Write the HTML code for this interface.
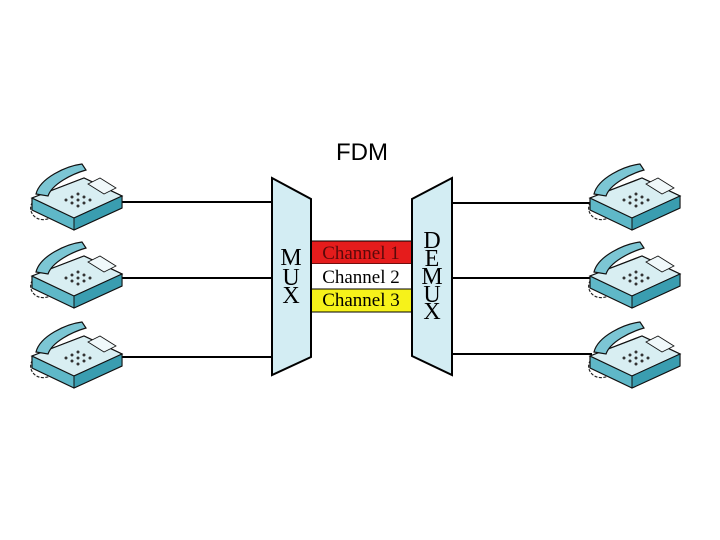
<!DOCTYPE html>
<html><head><style>body{margin:0;background:#fff}svg{display:block}</style></head><body>
<svg width="720" height="540" viewBox="0 0 720 540" xmlns="http://www.w3.org/2000/svg">
<defs>
<g id="ph">
  <path d="M14,40 C4,42 2,52 8,58 C14,64 24,62 30,56" fill="none" stroke="#222" stroke-width="1.2" stroke-dasharray="3 1.5"/>
  <polygon points="6,40 58,20 96,38 96,50 48,72 6,52" fill="#5fb8c8" stroke="#111" stroke-width="1.2"/>
  <polygon points="6,40 58,20 96,38 48,60" fill="#d8eef2" stroke="#111" stroke-width="1.2"/>
  <polygon points="48,60 96,38 96,50 48,72" fill="#3a9db0" stroke="#111" stroke-width="1"/>
  <path d="M10,36 C14,20 40,8 56,6 L60,12 C46,16 26,26 22,38 Z" fill="#7cc6d4" stroke="#111" stroke-width="1.2"/>
  <g fill="#333"><circle cx="40" cy="42" r="1.5"/><circle cx="46" cy="45" r="1.5"/><circle cx="52" cy="48" r="1.5"/><circle cx="46" cy="39" r="1.5"/><circle cx="52" cy="42" r="1.5"/><circle cx="58" cy="45" r="1.5"/><circle cx="52" cy="36" r="1.5"/><circle cx="58" cy="39" r="1.5"/><circle cx="64" cy="42" r="1.5"/></g>
  <polygon points="62,26 74,20 90,30 78,36" fill="#f0f8fa" stroke="#111" stroke-width="0.8"/>
</g>
</defs>
<text x="362" y="160" font-family="Liberation Sans, sans-serif" font-size="24" text-anchor="middle">FDM</text>
<g stroke="#000" stroke-width="2">
<line x1="118" y1="202" x2="272" y2="202"/><line x1="118" y1="278" x2="272" y2="278"/><line x1="118" y1="357" x2="272" y2="357"/>
<line x1="452" y1="203" x2="592" y2="203"/><line x1="452" y1="278" x2="592" y2="278"/><line x1="452" y1="354" x2="592" y2="354"/>
</g>
<use href="#ph" x="26" y="158"/><use href="#ph" x="26" y="236"/><use href="#ph" x="26" y="316"/>
<use href="#ph" x="584" y="158"/><use href="#ph" x="584" y="236"/><use href="#ph" x="584" y="316"/>
<rect x="311" y="241" width="101" height="23" fill="#e51c1c" stroke="#000" stroke-width="1"/>
<rect x="311" y="264" width="101" height="25" fill="#fff"/>
<rect x="311" y="289" width="101" height="23" fill="#f6f21a" stroke="#000" stroke-width="1"/>
<polygon points="272,178 311,199 311,357 272,375" fill="#d3edf3" stroke="#000" stroke-width="2"/>
<polygon points="412,199 452,178 452,375 412,356" fill="#d3edf3" stroke="#000" stroke-width="2"/>
<g font-family="Liberation Serif, serif" font-size="19" text-anchor="middle">
<text x="361" y="259" fill="#5a0a0a">Channel 1</text>
<text x="361" y="283">Channel 2</text>
<text x="361" y="306">Channel 3</text>
</g>
<g font-family="Liberation Serif, serif" font-size="24" text-anchor="middle">
<text x="291" y="265">M</text><text x="291" y="285">U</text><text x="291" y="303">X</text>
<text x="432" y="248">D</text><text x="432" y="266">E</text><text x="432" y="284">M</text><text x="432" y="302">U</text><text x="432" y="319">X</text>
</g>
</svg>
</body></html>
